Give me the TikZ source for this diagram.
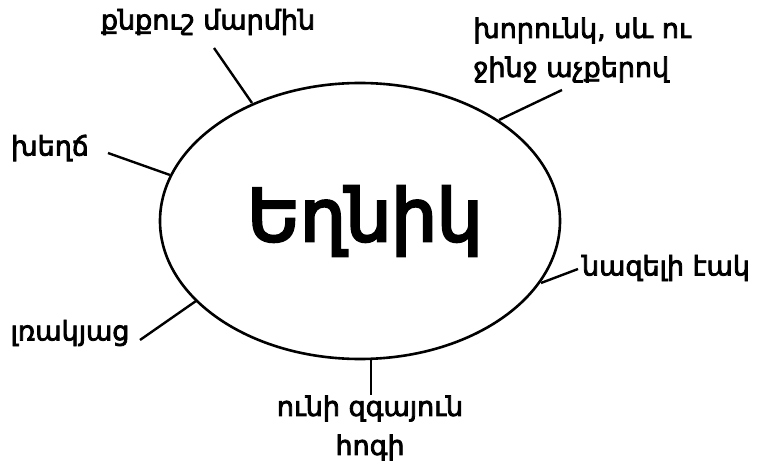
\documentclass[tikz,border=0pt]{standalone}
\usepackage{fontspec}
\setmainfont{DejaVu Sans}
\newfontfamily\armfont[FakeBold=3]{DejaVu Sans}
\newfontfamily\titlefont[FakeBold=4]{DejaVu Sans}
\usetikzlibrary{shapes.geometric}
\begin{document}
\begin{tikzpicture}[x=1pt,y=-1pt,
  lab/.style={font=\armfont\fontsize{27}{39}\selectfont, inner sep=0pt},
  conn/.style={line width=2.4pt}]
\useasboundingbox (0,0) rectangle (758,468);
\node[draw, ellipse, line width=2.6pt, minimum width=400pt, minimum height=276pt, inner sep=0pt] (E) at (360,221) {};
\node[font=\titlefont\fontsize{72}{80}\selectfont, inner sep=0pt] (T) at (365,221) {Եղնիկ};
\node[lab] (n1) at (208,22) {քնքուշ մարմին};
\node[lab, align=left] (n2) at (582,50) {խորունկ, սև ու\\ջինջ աչքերով};
\node[lab] (n3) at (50,148) {խեղճ};
\node[lab] (n4) at (666,268) {նազելի էակ};
\node[lab] (n5) at (70,333) {լռակյաց};
\node[lab, align=center] (n6) at (370,428) {ունի զգայուն\\հոգի};
\coordinate (a1) at (252,103); \coordinate (b1) at (214,48);
\coordinate (a2) at (499,120); \coordinate (b2) at (562,90);
\coordinate (a3) at (170,175); \coordinate (b3) at (108,153);
\coordinate (a4) at (541,283); \coordinate (b4) at (578,269);
\coordinate (a5) at (196,301); \coordinate (b5) at (140,340);
\coordinate (a6) at (371,360); \coordinate (b6) at (371,395);
\foreach \i in {1,...,6} \draw[conn] (a\i) -- (b\i);
\end{tikzpicture}
\end{document}
